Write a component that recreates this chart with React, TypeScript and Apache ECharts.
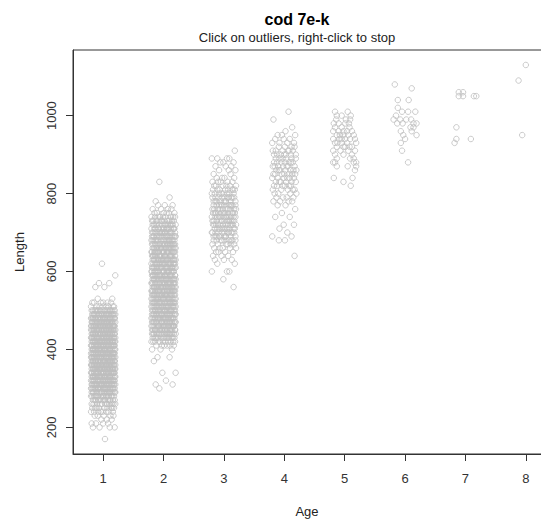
import React, { useEffect, useRef } from "react";
import * as echarts from "echarts";

const FONT = '"Liberation Sans", Arial, Helvetica, sans-serif';

const titleText = "cod 7e-k";
const subtitleText = "Click on outliers, right-click to stop";
const xName = "Age";
const yName = "Length";

const ageTicks = [1, 2, 3, 4, 5, 6, 7, 8];
const lengthTicks = [200, 400, 600, 800, 1000];

// [length, number of fish] per 10 mm bin
const age1Bins: [number, number][] = [
  [170, 1], [200, 4], [210, 4], [220, 3], [230, 5], [240, 8], [250, 9], [260, 11],
  [270, 13], [280, 16], [290, 20], [300, 24], [310, 27], [320, 25], [330, 28],
  [340, 26], [350, 29], [360, 27], [370, 28], [380, 26], [390, 29], [400, 28],
  [410, 27], [420, 29], [430, 26], [440, 27], [450, 25], [460, 26], [470, 24],
  [480, 25], [490, 21], [500, 17], [510, 8], [520, 6], [530, 2], [560, 2],
  [570, 2], [590, 1], [620, 1],
];

const age2Bins: [number, number][] = [
  [300, 1], [310, 2], [320, 1], [340, 2], [370, 1], [380, 2], [400, 3], [410, 6],
  [420, 11], [430, 14], [440, 17], [450, 19], [460, 20], [470, 19], [480, 21],
  [490, 20], [500, 21], [510, 20], [520, 21], [530, 19], [540, 21], [550, 20],
  [560, 21], [570, 19], [580, 20], [590, 21], [600, 19], [610, 20], [620, 19],
  [630, 20], [640, 18], [650, 19], [660, 18], [670, 18], [680, 16], [690, 17],
  [700, 16], [710, 15], [720, 13], [730, 12], [740, 9], [750, 6], [760, 4],
  [770, 3], [780, 1], [790, 1], [830, 1],
];

const age3Bins: [number, number][] = [
  [560, 1], [580, 1], [600, 3], [620, 2], [630, 3], [640, 3], [650, 4], [660, 5],
  [670, 6], [680, 9], [690, 10], [700, 11], [710, 10], [720, 12], [730, 11],
  [740, 12], [750, 11], [760, 10], [770, 11], [780, 9], [790, 10], [800, 8],
  [810, 8], [820, 6], [830, 5], [840, 4], [850, 2], [860, 3], [870, 3], [880, 3],
  [890, 4], [910, 1],
];

const age4Bins: [number, number][] = [
  [640, 1], [680, 2], [690, 2], [700, 1], [710, 1], [720, 2], [740, 2], [750, 1],
  [760, 1], [770, 2], [780, 4], [790, 4], [800, 4], [810, 5], [820, 6], [830, 6],
  [840, 6], [850, 7], [860, 7], [870, 7], [880, 7], [890, 6], [900, 7], [910, 6],
  [920, 4], [930, 4], [940, 3], [950, 3], [960, 1], [970, 1], [990, 1], [1010, 1],
];

// horizontal jitter offsets (hundredths of a year), as drawn
const jitterPattern = [
  3, -17, 11, -6, 19, -12, 0, 8, -19, 14,
  -3, 6, -14, 17, -9, 1, 12, -20, 5, -8,
  16, -1, -15, 9, -4, 18, -11, 2, 13, -18,
  7, -7, 15, -13, 4, -2, 20, -16, 10, -10,
  -5, 14, -19, 6, 17, -3, -12, 1, 11, -17,
  8, 19, -8, -14, 3, 12, -6, 16, -1, -20,
  9, 5, -11, 18, -15, 0, 13, -4, -18, 7,
  15, -9, 2, -13, 10, -7, 20, -2, -16, 4,
  17, -10, 6, -19, 11, -5, 14, 1, -12, 8,
  -17, 19, -3, 12, -8, 3, -14,
];

// [jittered age, length] read point by point
const age5Points: [number, number][] = [
  [4.84, 1010], [5.05, 1010],
  [4.87, 1000], [4.95, 1000], [5.10, 1000],
  [4.86, 990], [5.02, 990], [5.09, 990],
  [4.82, 980], [4.90, 980], [5.01, 980], [5.07, 980],
  [4.84, 970], [4.95, 970], [5.08, 970],
  [4.81, 960], [4.90, 960], [4.98, 960], [5.04, 960], [5.12, 960],
  [4.87, 950], [4.92, 950], [4.98, 950], [5.06, 950], [5.15, 950],
  [4.81, 940], [4.91, 940], [4.95, 940], [5.01, 940], [5.09, 940], [5.17, 940],
  [4.84, 930], [4.88, 930], [4.95, 930], [5.04, 930], [5.19, 930],
  [4.87, 920], [4.98, 920], [5.01, 920], [5.08, 920], [5.12, 920],
  [4.81, 910], [4.93, 910], [5.06, 910], [5.17, 910],
  [4.84, 900], [4.98, 900], [5.12, 900],
  [4.87, 890], [5.09, 890], [5.15, 890],
  [4.81, 880], [4.84, 880], [5.15, 880], [5.19, 880],
  [4.87, 870], [5.05, 870], [5.19, 870],
  [5.17, 860],
  [4.82, 840], [5.13, 840],
  [4.98, 830],
  [5.10, 820],
];

const age6Points: [number, number][] = [
  [5.83, 1080], [6.11, 1070], [5.88, 1040], [6.06, 1040], [5.88, 1020],
  [5.95, 1010], [6.05, 1010], [6.17, 1010], [5.85, 1000], [5.81, 990],
  [5.92, 990], [6.02, 990], [6.10, 990], [5.87, 980], [5.96, 980],
  [6.14, 980], [6.19, 980], [6.09, 970], [6.14, 970], [5.93, 960],
  [6.11, 960], [5.97, 950], [6.19, 950], [6.00, 940], [5.93, 930],
  [5.95, 910], [6.05, 880],
];

const age7Points: [number, number][] = [
  [6.89, 1060], [6.96, 1060], [6.89, 1050], [6.96, 1050], [7.14, 1050],
  [7.18, 1050], [6.85, 970], [6.85, 940], [6.82, 930], [7.09, 940],
];

const age8Points: [number, number][] = [
  [8.0, 1130], [7.88, 1090], [7.94, 950],
];

function expandBins(age: number, bins: [number, number][], start: number): [number, number][] {
  const out: [number, number][] = [];
  let k = start;
  for (const [len, count] of bins) {
    for (let i = 0; i < count; i++) {
      out.push([age + jitterPattern[k % jitterPattern.length] / 100, len]);
      k++;
    }
  }
  return out;
}

export default function App() {
  const ref = useRef<HTMLDivElement>(null);
  useEffect(() => {
    document.body.style.margin = "0";
    const chart = echarts.init(ref.current!, null, { renderer: "svg" });
    const points = [
      ...expandBins(1, age1Bins, 0),
      ...expandBins(2, age2Bins, 31),
      ...expandBins(3, age3Bins, 57),
      ...expandBins(4, age4Bins, 13),
      ...age5Points,
      ...age6Points,
      ...age7Points,
      ...age8Points,
    ];
    const axisColor = "#333";
    chart.setOption({
      animation: false,
      backgroundColor: "#fff",
      textStyle: { fontFamily: FONT },
      grid: {
        left: 73, right: -15, top: 50, bottom: 65,
        outerBoundsMode: "none",
        containLabel: false,
        show: true, borderColor: axisColor, borderWidth: 1, backgroundColor: "transparent",
      },
      xAxis: {
        type: "value", min: 0.5, max: 8.5,
        axisLine: { show: true, onZero: false, lineStyle: { color: axisColor, width: 1 } },
        axisTick: { show: true, length: 7, customValues: ageTicks, lineStyle: { color: axisColor } },
        axisLabel: { customValues: ageTicks, margin: 18, fontSize: 13, color: "#333", fontFamily: FONT },
        splitLine: { show: false },
      },
      yAxis: {
        type: "value", min: 131.6, max: 1168.4,
        axisLine: { show: true, onZero: false, lineStyle: { color: axisColor, width: 1 } },
        axisTick: { show: true, length: 7, customValues: lengthTicks, lineStyle: { color: axisColor } },
        axisLabel: {
          customValues: lengthTicks, rotate: 90, margin: 15, fontSize: 13, color: "#333", fontFamily: FONT,
          formatter: (v: number) => String(v),
        },
        splitLine: { show: false },
      },
      series: [
        {
          type: "scatter",
          data: points,
          symbol: "circle",
          symbolSize: 5.5,
          silent: true,
          large: false,
          progressive: 0,
          itemStyle: { color: "rgba(0,0,0,0)", borderColor: "#bebebe", borderWidth: 1 },
        },
      ],
      graphic: [
        {
          type: "text", x: 297, y: 19,
          style: { text: titleText, fill: "#000", fontSize: 16, fontWeight: "bold", fontFamily: FONT, align: "center", verticalAlign: "middle" },
        },
        {
          type: "text", x: 297, y: 37,
          style: { text: subtitleText, fill: "#222", fontSize: 13, fontFamily: FONT, align: "center", verticalAlign: "middle" },
        },
        {
          type: "text", x: 307, y: 511,
          style: { text: xName, fill: "#222", fontSize: 13, fontFamily: FONT, align: "center", verticalAlign: "middle" },
        },
        {
          type: "text", x: 19, y: 252, rotation: Math.PI / 2,
          style: { text: yName, fill: "#222", fontSize: 13, fontFamily: FONT, align: "center", verticalAlign: "middle" },
        },
      ],
    });
    return () => chart.dispose();
  }, []);
  return <div ref={ref} style={{ width: 541, height: 519 }} />;
}
